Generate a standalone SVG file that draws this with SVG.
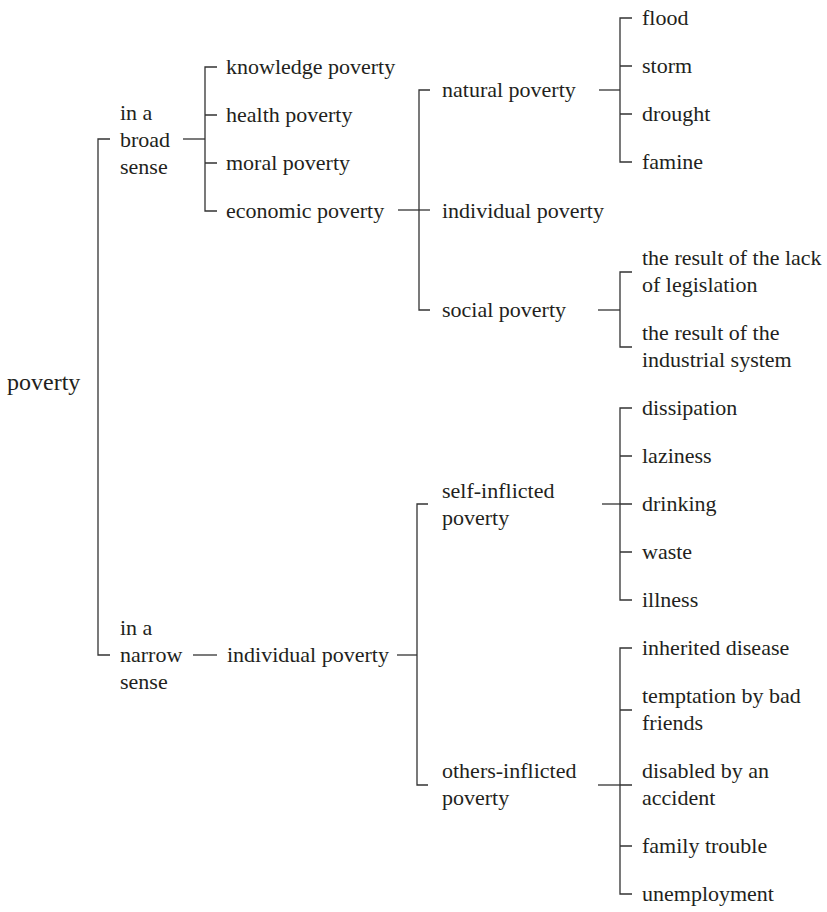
<svg xmlns="http://www.w3.org/2000/svg" width="827" height="912" viewBox="0 0 827 912">
<style>
text{font-family:"Liberation Serif","Times New Roman",serif;font-size:22px;fill:#231f20}
.root{font-size:24px}
.c line,.c path{stroke:#333;stroke-width:1.3;fill:none}
</style>
<rect width="827" height="912" fill="#fff"/>
<g class="c" id="connectors">
<path d="M110 139H98V655H110"/>
<line x1="183" y1="139" x2="205" y2="139"/>
<path d="M217 67H205V211H217M205 115H217M205 163H217"/>
<line x1="398" y1="210" x2="430" y2="210"/>
<path d="M430 90H419V310H430"/>
<line x1="599" y1="90" x2="620" y2="90"/>
<path d="M632 18H620V162H632M620 66H632M620 114H632"/>
<line x1="598" y1="310" x2="620" y2="310"/>
<path d="M632 272H620V347H632"/>
<line x1="193" y1="655" x2="217" y2="655"/>
<line x1="397" y1="655" x2="417" y2="655"/>
<path d="M428 504H417V785H428"/>
<line x1="602" y1="504" x2="620" y2="504"/>
<path d="M632 408H620V600H632M620 456H632M620 504H632M620 552H632"/>
<line x1="598" y1="785" x2="620" y2="785"/>
<path d="M632 648H620V894H632M620 710H632M620 785H632M620 846H632"/>
</g>
<g id="n-poverty"><text class="root" x="7" y="390">poverty</text></g>
<g id="n-broad"><text x="120" y="120">in a</text><text x="120" y="147">broad</text><text x="120" y="174">sense</text></g>
<g id="n-narrow"><text x="120" y="635">in a</text><text x="120" y="662">narrow</text><text x="120" y="689">sense</text></g>
<g id="n-knowledge"><text x="226" y="74">knowledge poverty</text></g>
<g id="n-health"><text x="226" y="122">health poverty</text></g>
<g id="n-moral"><text x="226" y="170">moral poverty</text></g>
<g id="n-economic"><text x="226" y="218">economic poverty</text></g>
<g id="n-natural"><text x="442" y="97">natural poverty</text></g>
<g id="n-individual1"><text x="442" y="218">individual poverty</text></g>
<g id="n-social"><text x="442" y="317">social poverty</text></g>
<g id="n-flood"><text x="642" y="25">flood</text></g>
<g id="n-storm"><text x="642" y="73">storm</text></g>
<g id="n-drought"><text x="642" y="121">drought</text></g>
<g id="n-famine"><text x="642" y="169">famine</text></g>
<g id="n-legislation"><text x="642" y="265">the result of the lack</text><text x="642" y="292">of legislation</text></g>
<g id="n-industrial"><text x="642" y="340">the result of the</text><text x="642" y="367">industrial system</text></g>
<g id="n-individual2"><text x="227" y="662">individual poverty</text></g>
<g id="n-self"><text x="442" y="498">self-inflicted</text><text x="442" y="525">poverty</text></g>
<g id="n-others"><text x="442" y="778">others-inflicted</text><text x="442" y="805">poverty</text></g>
<g id="n-dissipation"><text x="642" y="415">dissipation</text></g>
<g id="n-laziness"><text x="642" y="463">laziness</text></g>
<g id="n-drinking"><text x="642" y="511">drinking</text></g>
<g id="n-waste"><text x="642" y="559">waste</text></g>
<g id="n-illness"><text x="642" y="607">illness</text></g>
<g id="n-inherited"><text x="642" y="655">inherited disease</text></g>
<g id="n-temptation"><text x="642" y="703">temptation by bad</text><text x="642" y="730">friends</text></g>
<g id="n-disabled"><text x="642" y="778">disabled by an</text><text x="642" y="805">accident</text></g>
<g id="n-family"><text x="642" y="853">family trouble</text></g>
<g id="n-unemployment"><text x="642" y="901">unemployment</text></g>
</svg>
